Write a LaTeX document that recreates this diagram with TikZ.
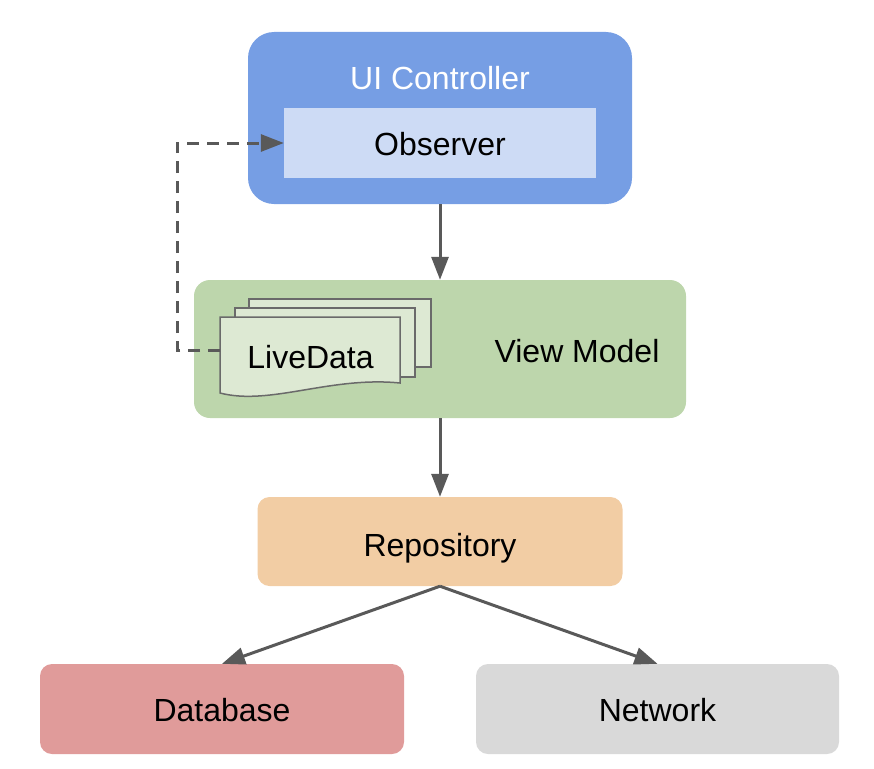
\documentclass[tikz,border=0pt]{standalone}
\usepackage{fontspec}
\setmainfont{Liberation Sans}
\usepackage{xcolor}
\usetikzlibrary{arrows.meta,calc,positioning}
\definecolor{ctrlblue}{RGB}{118,158,228}
\definecolor{obsblue}{RGB}{205,219,245}
\definecolor{vmgreen}{RGB}{189,214,172}
\definecolor{ldgreen}{RGB}{221,233,211}
\definecolor{repoorange}{RGB}{242,205,164}
\definecolor{dbred}{RGB}{224,155,154}
\definecolor{netgray}{RGB}{217,217,217}
\definecolor{linegray}{RGB}{89,89,89}
\newcommand{\ldpage}[4]{
	\draw[linegray!90, line width=1.5pt, fill=ldgreen] (#1,#2) rectangle ++(#3,#4);
	}
\tikzset{
	layer/.style={inner sep=0pt, font=\fontsize{32}{36}\selectfont, text height=24pt, text depth=0pt},
	link/.style={-{Triangle[length=23pt,width=17pt]}, linegray, line width=3pt},
}

\begin{document}
\begin{tikzpicture}[x=1pt, y=-1pt]

	\useasboundingbox (0,0) rectangle (874,768);

	% UI controller with observer
	\node[layer, fill=ctrlblue, rounded corners=26pt, minimum width=384pt, minimum height=172pt] (ui) at (440,118) {};
	\node[layer, text=white, anchor=base] (uititle) at (440,89) {UI Controller};
	\node[layer, fill=obsblue, minimum width=312pt, minimum height=70pt] (obs) at (440,143) {Observer};

	% view model with live data
	\node[layer, fill=vmgreen, rounded corners=16pt, minimum width=492pt, minimum height=138pt] (vm) at (440,349) {};
	\node[layer, anchor=base] (vmtitle) at (577,362) {View Model};

	\ldpage{249}{299}{182}{68}
	\ldpage{235}{308}{180}{69}
	\draw[linegray!90, line width=1.5pt, fill=ldgreen]
		(220,393) -- (220,317) -- (400,317) -- (400,383)
		.. controls (330,376) and (270,406) .. cycle;
	\node[layer, anchor=base] (ld) at (310.5,368) {LiveData};
	\coordinate (ldw) at (220,350);

	% repository and sources
	\node[layer, fill=repoorange, rounded corners=12pt, minimum width=365pt, minimum height=89pt, text height=29pt] (repo) at (440,541.5) {Repository};
	\node[layer, fill=dbred, rounded corners=12pt, minimum width=364pt, minimum height=90pt] (db) at (222,709) {Database};
	\node[layer, fill=netgray, rounded corners=12pt, minimum width=363pt, minimum height=90pt] (net) at (657.5,709) {Network};

	\draw[link] (ui.south) -- (vm.north);
	\draw[link] (vm.south) -- (repo.north);
	\draw[link] (repo.south) -- (db.north);
	\draw[link] (repo.south) -- (net.north);

	\draw[link, dash pattern=on 12pt off 8pt] (ldw) -- ++(-43,0) |- (obs.west);

\end{tikzpicture}
\end{document}
